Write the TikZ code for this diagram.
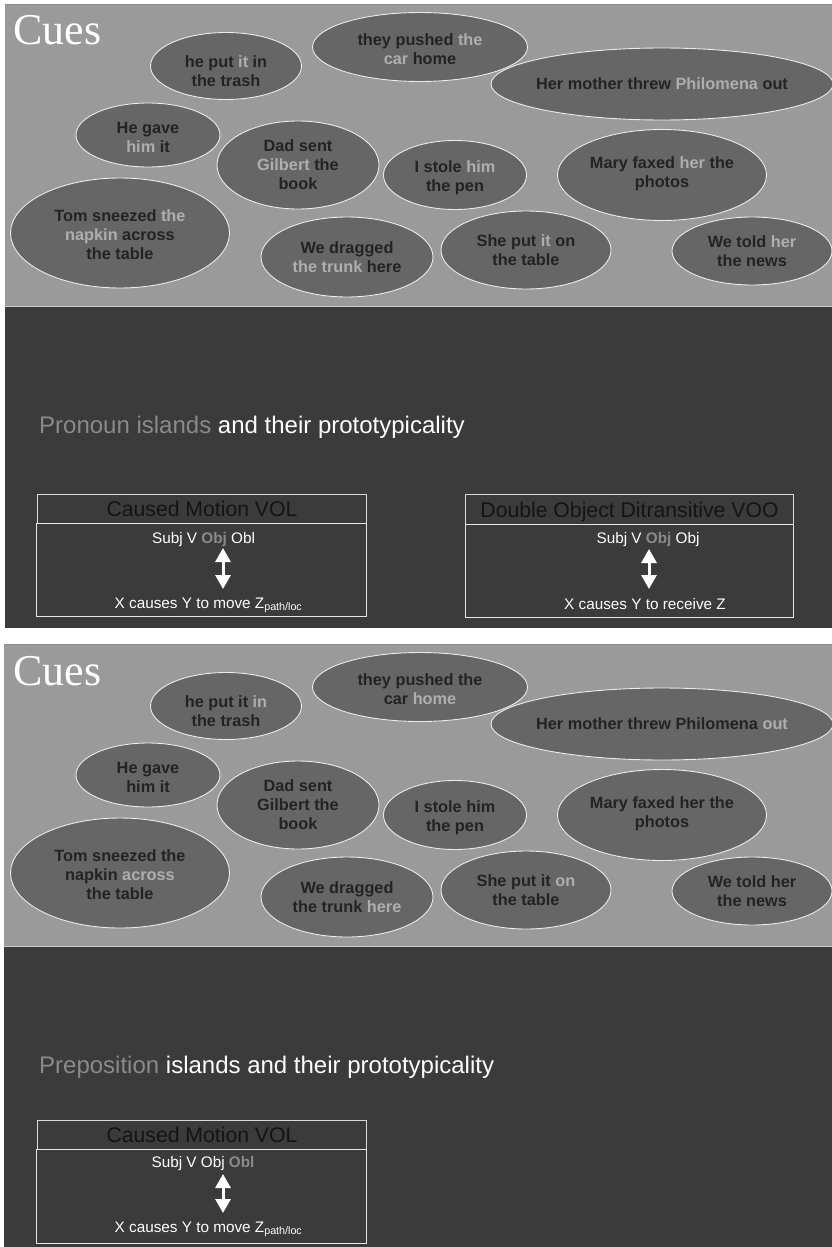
\documentclass[tikz,border=0pt]{standalone}
\usepackage{fontspec}
\setmainfont{Liberation Sans}
\newfontfamily\cuesfont{Liberation Serif}
\usetikzlibrary{shapes.geometric,arrows.meta}
\definecolor{panelgray}{HTML}{9A9A9A}
\definecolor{cuefill}{HTML}{666666}
\definecolor{slidedark}{HTML}{3B3B3B}
\definecolor{inkdark}{HTML}{232323}
\definecolor{hilite}{HTML}{AEAEAE}
\definecolor{titlegray}{HTML}{8A8A8A}
\newcommand{\hl}[1]{\textcolor{hilite}{#1}}
\newcommand{\hlobj}[1]{\textcolor{titlegray}{\bfseries #1}}
\begin{document}
\begin{tikzpicture}[x=1pt,y=-1pt,
  cue/.style={ellipse,draw=white!92!black,line width=0.9pt,fill=cuefill,inner sep=0pt},
  cuetext/.style={align=center,text=inkdark,inner sep=0pt,font=\fontsize{16.3}{19}\selectfont\bfseries},
  cueshead/.style={anchor=base west,inner sep=0pt,text=white,font=\cuesfont\fontsize{44}{48}\selectfont},
  slidetitle/.style={anchor=base west,inner sep=0pt,text=white,font=\fontsize{24}{28}\selectfont},
  hdrbox/.style={draw=white!85!black,line width=1pt,anchor=north west,inner sep=0pt,text depth=0pt,text=black!92,font=\fontsize{21.2}{24}\selectfont},
  bodybox/.style={draw=white!90!black,line width=1pt,anchor=north west,inner sep=0pt},
  formtext/.style={anchor=base,inner sep=0pt,text=white,font=\fontsize{15.3}{18}\selectfont},
  twoway/.style={{Triangle[width=15pt,length=14pt]}-{Triangle[width=15pt,length=14pt]},line width=3pt,white}]
\useasboundingbox (0,0) rectangle (832,1247);
\fill[white] (0,0) rectangle (832,1247);
% slide 1
\fill[panelgray] (5,4) rectangle (832,306); % panel
\draw[black!45,line width=0.8pt] (5,4) -- (832,4);
\fill[slidedark] (5,307) rectangle (832,628); % dark
\draw[white!80!black,line width=1pt] (5,306.5) -- (832,306.5);
\node[cueshead] (cuesA) at (13,45) {Cues};
\begin{scope}
\clip (5,4) rectangle (832,306);
\node[cue,minimum width=151,minimum height=67] (putA) at (226,66) {}; % he put it in
\node[cuetext] (putAtx) at ([yshift=-5]putA.center) {he put \hl{it} in\\the trash};
\node[cue,minimum width=215,minimum height=69] (pushA) at (420,47) {}; % they pushed
\node[cuetext] (pushAtx) at ([yshift=-2]pushA.center) {they pushed \hl{the}\\\hl{car} home};
\node[cue,minimum width=342,minimum height=72] (threwA) at (662,84) {}; % her mother threw
\node[cuetext] (threwAtx) at (threwA) {Her mother threw \hl{Philomena} out};
\node[cue,minimum width=144,minimum height=64] (gaveA) at (148,135) {}; % he gave
\node[cuetext] (gaveAtx) at ([yshift=-2.5]gaveA.center) {He gave\\\hl{him} it};
\node[cue,minimum width=162,minimum height=88] (sentA) at (298,165) {}; % dad sent
\node[cuetext] (sentAtx) at (sentA) {Dad sent\\\hl{Gilbert} the\\book};
\node[cue,minimum width=143,minimum height=69] (stoleA) at (455,175) {}; % i stole
\node[cuetext] (stoleAtx) at ([yshift=-2.5]stoleA.center) {I stole \hl{him}\\the pen};
\node[cue,minimum width=209,minimum height=91] (faxA) at (662,175) {}; % mary faxed
\node[cuetext] (faxAtx) at ([yshift=1.5]faxA.center) {Mary faxed \hl{her} the\\photos};
\node[cue,minimum width=219,minimum height=110] (sneezeA) at (120,233) {}; % tom sneezed
\node[cuetext] (sneezeAtx) at ([yshift=-1.5]sneezeA.center) {Tom sneezed \hl{the}\\\hl{napkin} across\\the table};
\node[cue,minimum width=172,minimum height=80] (dragA) at (347,257) {}; % we dragged
\node[cuetext] (dragAtx) at (dragA) {We dragged\\\hl{the trunk} here};
\node[cue,minimum width=170,minimum height=78] (onA) at (526,250) {}; % she put it on
\node[cuetext] (onAtx) at (onA) {She put \hl{it} on\\the table};
\node[cue,minimum width=160,minimum height=68] (toldA) at (752,251) {}; % we told
\node[cuetext] (toldAtx) at (toldA) {We told \hl{her}\\the news};
\end{scope}
\node[slidetitle] (titleA) at (39,433) {\textcolor{titlegray}{Pronoun islands} and their prototypicality};
\node[hdrbox,minimum width=329,minimum height=29] (cmA) at (37,494) {Caused Motion VOL};
\node[bodybox,minimum width=330,minimum height=93] (cmAbody) at (36,523) {};
\node[formtext] (subjA) at (203.5,543) {Subj V \hlobj{Obj} Obl};
\node[formtext] (causeA) at (208.5,608) {X causes Y to move Z\textsubscript{path/loc}};
\coordinate (arrAtop) at (223,548);
\coordinate (arrAbot) at (223,589);
\draw[twoway] (arrAtop) -- (arrAbot);
\node[hdrbox,minimum width=328,minimum height=30] (doB) at (465,494) {Double Object Ditransitive VOO};
\node[bodybox,minimum width=328,minimum height=93] (doBbody) at (465,524) {};
\node[formtext] (subjB) at (648,543) {Subj V \hlobj{Obj} Obj};
\node[formtext] (causeB) at (645,609) {X causes Y to receive Z};
\coordinate (arrBtop) at (649,549);
\coordinate (arrBbot) at (649,589);
\draw[twoway] (arrBtop) -- (arrBbot);
% slide 2
\fill[panelgray] (4,644) rectangle (832,946); % panel
\draw[black!45,line width=0.8pt] (4,644) -- (832,644);
\fill[slidedark] (4,947) rectangle (832,1247); % dark
\draw[white!80!black,line width=1pt] (4,946.5) -- (832,946.5);
\node[cueshead] (cuesC) at (13,685) {Cues};
\begin{scope}
\clip (4,644) rectangle (832,946);
\node[cue,minimum width=151,minimum height=67] (putC) at (226,706) {}; % he put it in
\node[cuetext] (putCtx) at ([yshift=-5]putC.center) {he put it \hl{in}\\the trash};
\node[cue,minimum width=215,minimum height=69] (pushC) at (420,687) {}; % they pushed
\node[cuetext] (pushCtx) at ([yshift=-2]pushC.center) {they pushed the\\car \hl{home}};
\node[cue,minimum width=342,minimum height=72] (threwC) at (662,724) {}; % her mother threw
\node[cuetext] (threwCtx) at (threwC) {Her mother threw Philomena \hl{out}};
\node[cue,minimum width=144,minimum height=64] (gaveC) at (148,775) {}; % he gave
\node[cuetext] (gaveCtx) at ([yshift=-2.5]gaveC.center) {He gave\\him it};
\node[cue,minimum width=162,minimum height=88] (sentC) at (298,805) {}; % dad sent
\node[cuetext] (sentCtx) at (sentC) {Dad sent\\Gilbert the\\book};
\node[cue,minimum width=143,minimum height=69] (stoleC) at (455,815) {}; % i stole
\node[cuetext] (stoleCtx) at ([yshift=-2.5]stoleC.center) {I stole him\\the pen};
\node[cue,minimum width=209,minimum height=91] (faxC) at (662,815) {}; % mary faxed
\node[cuetext] (faxCtx) at ([yshift=1.5]faxC.center) {Mary faxed her the\\photos};
\node[cue,minimum width=219,minimum height=110] (sneezeC) at (120,873) {}; % tom sneezed
\node[cuetext] (sneezeCtx) at ([yshift=-1.5]sneezeC.center) {Tom sneezed the\\napkin \hl{across}\\the table};
\node[cue,minimum width=172,minimum height=80] (dragC) at (347,897) {}; % we dragged
\node[cuetext] (dragCtx) at (dragC) {We dragged\\the trunk \hl{here}};
\node[cue,minimum width=170,minimum height=78] (onC) at (526,890) {}; % she put it on
\node[cuetext] (onCtx) at (onC) {She put it \hl{on}\\the table};
\node[cue,minimum width=160,minimum height=68] (toldC) at (752,891) {}; % we told
\node[cuetext] (toldCtx) at (toldC) {We told her\\the news};
\end{scope}
\node[slidetitle] (titleC) at (39,1073) {\textcolor{titlegray}{Preposition} islands and their prototypicality};
\node[hdrbox,minimum width=329,minimum height=29] (cmC) at (37,1120) {Caused Motion VOL};
\node[bodybox,minimum width=330,minimum height=94] (cmCbody) at (36,1149) {};
\node[formtext] (subjC) at (203,1167) {Subj V Obj \hlobj{Obl}};
\node[formtext] (causeC) at (208.5,1232) {X causes Y to move Z\textsubscript{path/loc}};
\coordinate (arrCtop) at (223,1174);
\coordinate (arrCbot) at (223,1213);
\draw[twoway] (arrCtop) -- (arrCbot);
\end{tikzpicture}
\end{document}
